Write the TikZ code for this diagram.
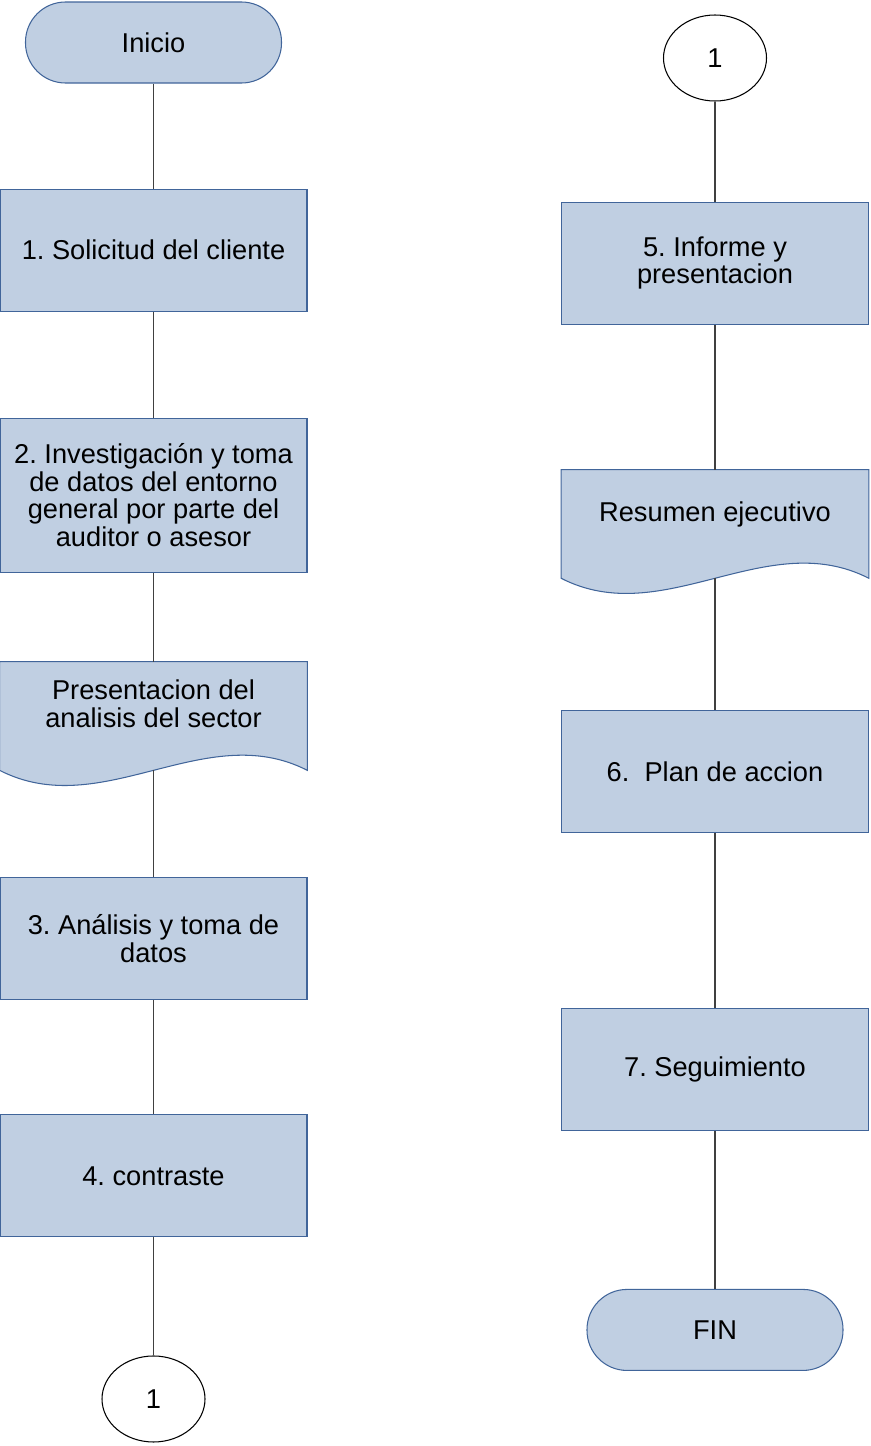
\documentclass[tikz,border=0pt]{standalone}
\usepackage{fontspec}
\setmainfont{Liberation Sans}
\frenchspacing
\usetikzlibrary{positioning,shapes.geometric}
\definecolor{boxfill}{HTML}{C0CFE2}
\definecolor{boxline}{HTML}{41659A}

\begin{document}
\begin{tikzpicture}[
  every node/.style={font=\fontsize{15.5}{15.7}\selectfont, align=center},
  proc/.style={draw=boxline, line width=0.6pt, fill=boxfill, minimum width=6.14cm, minimum height=2.44cm},
  term/.style={draw=boxline, line width=0.6pt, fill=boxfill, rounded corners=0.8cm, minimum width=5.12cm, minimum height=1.62cm},
  docbox/.style={minimum width=6.14cm, minimum height=2.16cm},
  docshape/.style={draw=boxline, line width=0.6pt, fill=boxfill},
  conn/.style={draw, ellipse, line width=0.6pt, fill=white, minimum width=2.06cm, minimum height=1.72cm},
  link/.style={draw=black!75, line width=0.6pt}]
  \useasboundingbox (0,0) rectangle (17.42,-28.92);
  % left column
  \node[term] (inicio) at (3.07,-0.85) {Inicio};
  \node[proc, below=2.1cm of inicio] (p1) {1. Solicitud del cliente};
  \node[proc, minimum height=3.08cm, below=2.12cm of p1] (p2) {2. Investigación y toma\\de datos del entorno\\general por parte del\\auditor o asesor};
  \node[docbox, below=1.78cm of p2] (doc1) {};
  \node[proc, below=2.14cm of doc1] (p3) {3. Análisis y toma de\\datos};
  \node[proc, below=2.28cm of p3] (p4) {4. contraste};
  \node[conn, below=2.36cm of p4] (c1a) {1};
  % right column
  \node[conn] (c1b) at (14.3,-1.16) {1};
  \node[proc, below=2cm of c1b] (p5) {5. Informe y\\presentacion};
  \node[docbox, below=2.9cm of p5] (doc2) {};
  \node[proc, below=2.63cm of doc2] (p6) {6.\ \ Plan de accion};
  \node[proc, below=3.5cm of p6] (p7) {7. Seguimiento};
  \node[term, below=3.16cm of p7] (fin) {FIN};
  % document shapes
  \foreach \d in {doc1,doc2}
    \draw[docshape] (\d.north west) -- (\d.north east) -- (\d.south east)
      .. controls ([xshift=-2.05cm,yshift=1.05cm]\d.south east) and ([xshift=2.05cm,yshift=-1.05cm]\d.south west) .. (\d.south west) -- cycle;
  \node[yshift=0.24cm] at (doc1) {Presentacion del\\analisis del sector};
  \node[yshift=0.18cm] at (doc2) {Resumen ejecutivo};
  % connectors
  \draw[link] (inicio) -- (p1);
  \draw[link] (p1) -- (p2);
  \draw[link] (p2) -- (doc1);
  \draw[link] (doc1.south) -- (p3);
  \draw[link] (p3) -- (p4);
  \draw[link] (p4) -- (c1a);
  \draw[link] (c1b) -- (p5);
  \draw[link] (p5) -- (doc2);
  \draw[link] (doc2.south) -- (p6);
  \draw[link] (p6) -- (p7);
  \draw[link] (p7) -- (fin);
\end{tikzpicture}
\end{document}
